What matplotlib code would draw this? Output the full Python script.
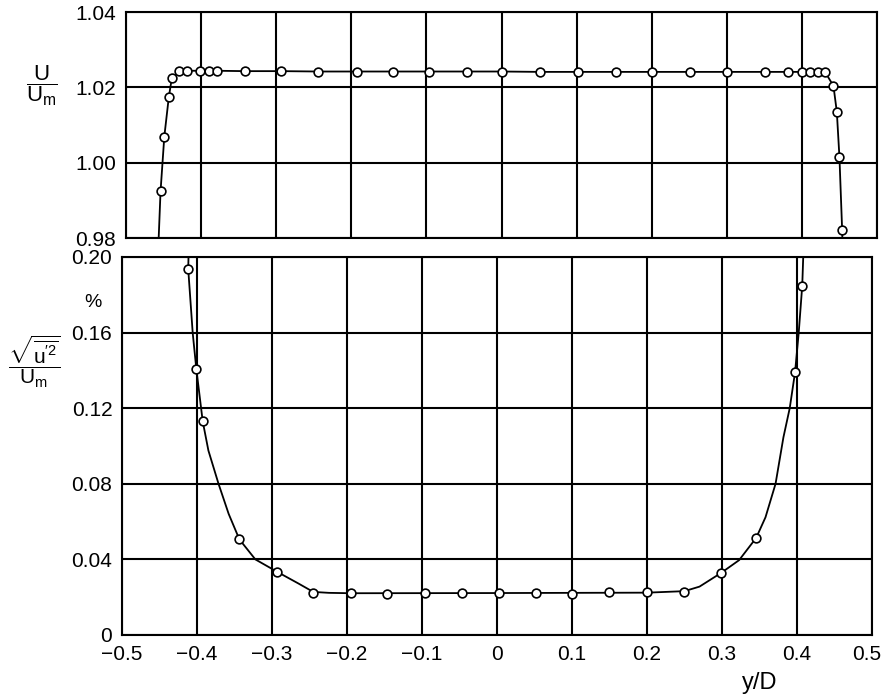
import matplotlib.pyplot as plt
from matplotlib.transforms import ScaledTranslation

plt.rcParams['font.family'] = ['Liberation Sans', 'DejaVu Sans']
plt.rcParams['mathtext.fontset'] = 'custom'
plt.rcParams['mathtext.rm'] = 'Liberation Sans'
plt.rcParams['mathtext.it'] = 'Liberation Sans'

# mean velocity U/Um across the section
u_pos = [-0.454, -0.449, -0.443, -0.439, -0.429, -0.419, -0.401, -0.390, -0.379,
         -0.342, -0.293, -0.244, -0.193, -0.144, -0.096, -0.046, 0.001, 0.051,
         0.102, 0.152, 0.200, 0.251, 0.300, 0.351, 0.3815, 0.400, 0.411, 0.421,
         0.431, 0.442, 0.4465, 0.450, 0.4536]
u_ratio = [0.9924, 1.0069, 1.0174, 1.0224, 1.0244, 1.0244, 1.0244, 1.0244, 1.0244,
           1.0243, 1.0243, 1.0242, 1.0242, 1.0242, 1.0242, 1.0242, 1.0242, 1.0241,
           1.0241, 1.0241, 1.0241, 1.0241, 1.0241, 1.0241, 1.0241, 1.0241, 1.0241,
           1.0241, 1.0240, 1.0204, 1.0135, 1.0014, 0.9821]
# the faired line runs on past the end points
u_line_pos = [-0.4585] + u_pos + [0.4550]
u_line_val = [0.970] + u_ratio + [0.970]

# turbulence intensity sqrt(u'^2)/Um in %
t_pos = [-0.4117, -0.4009, -0.3924, -0.3435, -0.293, -0.245, -0.195, -0.147, -0.096,
         -0.046, 0.003, 0.052, 0.1005, 0.150, 0.200, 0.250, 0.299, 0.3456, 0.3974, 0.407]
t_val = [0.1936, 0.1408, 0.1131, 0.0506, 0.0334, 0.0221, 0.0221, 0.0216, 0.0221,
         0.0223, 0.0223, 0.0222, 0.0219, 0.0225, 0.0225, 0.0230, 0.0329, 0.0514,
         0.1390, 0.1849]
# faired curve through the intensity points
t_line_pos = [-0.4105, -0.4117, -0.4057, -0.4009, -0.3924, -0.3848, -0.3713,
              -0.3578, -0.3435, -0.3222, -0.293, -0.265, -0.245, -0.224, -0.195,
              0.000, 0.200, 0.250, 0.270, 0.299, 0.3228, 0.3456, 0.358, 0.3714,
              0.3819, 0.3903, 0.3974, 0.4023, 0.407, 0.4083, 0.4090]
t_line_val = [0.215, 0.1936, 0.1597, 0.1408, 0.1131, 0.0976, 0.0800,
              0.0641, 0.0506, 0.0400, 0.0334, 0.0273, 0.0228, 0.0223, 0.0221,
              0.0222, 0.0224, 0.0232, 0.0256, 0.0329, 0.0396, 0.0514, 0.0623, 0.0800,
              0.1046, 0.1200, 0.1390, 0.1600, 0.1849, 0.200, 0.215]

x_ticks = [-0.5, -0.4, -0.3, -0.2, -0.1, 0, 0.1, 0.2, 0.3, 0.4, 0.5]
x_labels = ['\u22120.5', '\u22120.4', '\u22120.3', '\u22120.2', '\u22120.1',
            '0', '0.1', '0.2', '0.3', '0.4', '0.5']
u_ticks = [0.98, 1.00, 1.02, 1.04]
u_labels = ['0.98', '1.00', '1.02', '1.04']
t_ticks = [0, 0.04, 0.08, 0.12, 0.16, 0.20]
t_labels = ['0', '0.04', '0.08', '0.12', '0.16', '0.20']

fig = plt.figure(figsize=(8.85, 6.97), dpi=100)
ax1 = fig.add_axes([126 / 885, 1 - 238 / 697, 751 / 885, 226 / 697])
ax2 = fig.add_axes([122 / 885, 1 - 635 / 697, 750 / 885, 378 / 697])

lw = 1.5
mk = dict(marker='o', ms=6.3, mfc='white', mec='black', mew=1.2, ls='none', zorder=4)

ax1.plot(u_line_pos, u_line_val, color='black', lw=1.3, zorder=3)
ax1.plot(u_pos, u_ratio, **mk)
ax1.set_xlim(-0.5, 0.5)
ax1.set_ylim(0.98, 1.04)
ax1.set_xticks(x_ticks)
ax1.set_xticklabels([])
ax1.set_yticks(u_ticks)
ax1.set_yticklabels(u_labels)

ax2.plot(t_line_pos, t_line_val, color='black', lw=1.3, zorder=3)
ax2.plot(t_pos, t_val, **mk)
ax2.set_xlim(-0.5, 0.5)
ax2.set_ylim(0, 0.20)
ax2.set_xticks(x_ticks)
ax2.set_xticklabels(x_labels)
ax2.set_yticks(t_ticks)
ax2.set_yticklabels(t_labels)

for ax in (ax1, ax2):
    ax.grid(True, color='black', lw=lw)
    ax.set_axisbelow(True)
    ax.tick_params(length=0, labelsize=15, pad=7)
    for sp in ax.spines.values():
        sp.set_linewidth(lw)

# pull the last x label in a little so it stays inside the figure
last = ax2.get_xticklabels()[-1]
last.set_transform(last.get_transform() + ScaledTranslation(-5 / 100, 0, fig.dpi_scale_trans))

# axis labels drawn as figure text
fig.text(42 / 885, 1 - 86 / 697, r'$\dfrac{\mathrm{U}}{\mathrm{U_m}}$',
         fontsize=16, ha='center', va='center')
fig.text(93 / 885, 1 - 302 / 697, '%', fontsize=14, ha='center', va='center')
fig.text(34 / 885, 1 - 362 / 697,
         r'$\dfrac{\sqrt{\overline{\mathrm{u}^{\prime 2}}}}{\mathrm{U_m}}$',
         fontsize=15, ha='center', va='center')
fig.text(760 / 885, 1 - 683 / 697, 'y/D', fontsize=17, ha='center', va='center')

fig.savefig('out.png', dpi=100)
